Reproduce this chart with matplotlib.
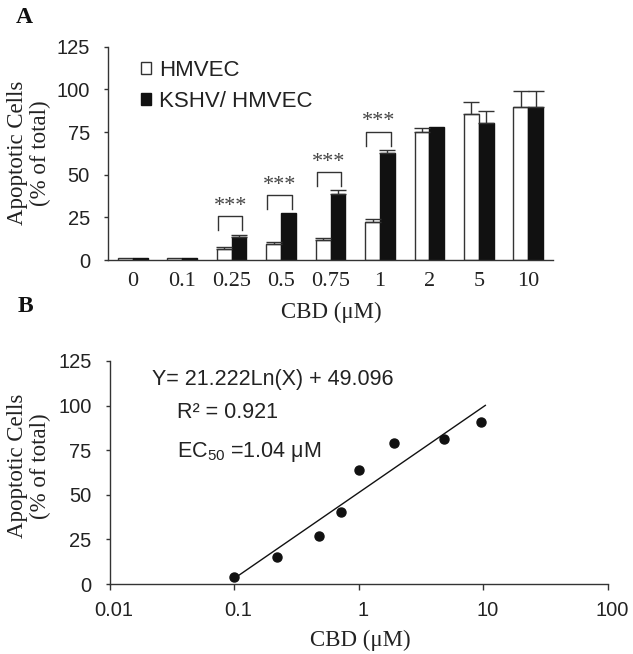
import numpy as np
import matplotlib
matplotlib.use('Agg')
import matplotlib.pyplot as plt
from matplotlib.ticker import NullLocator
from matplotlib.transforms import ScaledTranslation

# ---------------- data ----------------
cbd_labels = ['0', '0.1', '0.25', '0.5', '0.75', '1', '2', '5', '10']
hmvec = [1.0, 1.0, 6.4, 9.4, 11.7, 22.1, 75.2, 85.5, 89.6]
hmvec_err = [0, 0, 1.0, 1.0, 1.0, 1.9, 1.9, 7.3, 9.6]
kshv = [1.0, 1.0, 13.7, 27.3, 38.7, 62.7, 78.1, 80.3, 89.6]
kshv_err = [0, 0, 1.1, 0, 2.1, 1.9, 0, 7.2, 9.6]
sig_index = [2, 3, 4, 5]
sig_text = ['***', '***', '***', '***']
series_names = ['HMVEC', 'KSHV/ HMVEC']

dose_b = [0.1, 0.22, 0.48, 0.72, 1.0, 1.92, 4.84, 9.6]
apopt_b = [3.8, 15.3, 27.1, 40.2, 63.9, 79.2, 81.1, 91.0]

yticks = [0, 25, 50, 75, 100, 125]
xticks_b = [0.01, 0.1, 1, 10, 100]
xtick_labels_b = ['0.01', '0.1', '1', '10', '100']

eq_text = 'Y= 21.222Ln(X) + 49.096'
r2_text = 'R² = 0.921'
ec50_text = 'EC$_{50}$ =1.04 μM'
ylabel_text = 'Apoptotic Cells\n(% of total)'
xlabel_text = 'CBD (μM)'

# ---------------- style ----------------
SANS = 'Liberation Sans'
SERIF = 'Liberation Serif'
TXT = '#222222'
LINE = '#333333'
plt.rcParams['font.family'] = [SANS, 'DejaVu Sans']
plt.rcParams['mathtext.default'] = 'regular'

W, H = 633, 654
fig = plt.figure(figsize=(W / 100, H / 100), dpi=100)


def rect(l, t, r, b):
    return [l / W, 1 - b / H, (r - l) / W, (b - t) / H]


def style_axes(ax):
    for s in ['top', 'right']:
        ax.spines[s].set_visible(False)
    for s in ['left', 'bottom']:
        ax.spines[s].set_color(LINE)
        ax.spines[s].set_linewidth(1.0)


# ---------------- panel A ----------------
axA = fig.add_axes(rect(108, 46.7, 553, 260))
style_axes(axA)
x = np.arange(len(cbd_labels))
w = 0.30
axA.bar(x - w / 2, hmvec, w, color='white', edgecolor=LINE, linewidth=1.0,
        zorder=2, label=series_names[0])
axA.bar(x + w / 2, kshv, w, color='#111111', edgecolor='#111111', linewidth=1.0,
        zorder=2, label=series_names[1])
for xs, vals, errs in [(x - w / 2, hmvec, hmvec_err), (x + w / 2, kshv, kshv_err)]:
    vals = np.asarray(vals)
    errs = np.asarray(errs)
    m = errs > 0
    axA.errorbar(xs[m], vals[m], yerr=[np.zeros(m.sum()), errs[m]], fmt='none',
                 ecolor=LINE, elinewidth=1.0, capsize=5.5, capthick=1.0, zorder=3)

for i, s in zip(sig_index, sig_text):
    base = kshv[i] + kshv_err[i] + 2.5
    top = base + 8.2
    axA.plot([i - 0.28, i - 0.28, i + 0.22, i + 0.22], [base, top, top, base],
             color=LINE, lw=1.0, zorder=3)
    axA.text(i - 0.03, top + 5.8, s, ha='center', va='center',
             fontfamily=SERIF, fontsize=16, color='#444444')

axA.set_xlim(-0.5, 8.5)
axA.set_ylim(0, 125)
axA.set_yticks(yticks)
axA.set_xticks(x)
axA.set_xticklabels(cbd_labels, fontfamily=SERIF, fontsize=16, color=TXT)
axA.tick_params(axis='x', length=0, pad=9)
axA.tick_params(axis='y', direction='out', length=3, width=1.0, color=LINE,
                pad=10, labelsize=14.5, labelcolor=TXT)

leg = axA.legend(loc='upper left', bbox_to_anchor=(141 / W, 1 - 60 / H),
                 bbox_transform=fig.transFigure, frameon=False, fontsize=16,
                 handlelength=0.45, handleheight=0.45, handletextpad=0.35,
                 labelspacing=0.45, borderpad=0, borderaxespad=0)
for t in leg.get_texts():
    t.set_color(TXT)

# ---------------- panel B ----------------
axB = fig.add_axes(rect(109.5, 361, 608, 584))
style_axes(axB)
axB.set_xscale('log')
axB.set_xlim(0.01, 100)
axB.set_ylim(0, 125)
axB.plot(dose_b, apopt_b, 'o', color='#111111', ms=6.5, zorder=3)
coef = np.polyfit(np.log(dose_b), apopt_b, 1)
xf = np.geomspace(min(dose_b), max(dose_b) * 1.08, 100)
axB.plot(xf, np.polyval(coef, np.log(xf)), color='#111111', lw=1.0, zorder=2)

axB.set_xticks(xticks_b)
axB.set_xticklabels(xtick_labels_b)
axB.xaxis.set_minor_locator(NullLocator())
axB.set_yticks(yticks)
axB.tick_params(axis='x', direction='out', length=4, width=1.0, color=LINE,
                pad=8, labelsize=14.5, labelcolor=TXT)
axB.tick_params(axis='y', direction='out', length=3, width=1.0, color=LINE,
                pad=10, labelsize=14.5, labelcolor=TXT)
for lbl in axB.get_xticklabels():
    lbl.set_transform(lbl.get_transform() + ScaledTranslation(3 / 72, 0, fig.dpi_scale_trans))

axB.text(0.085, 0.919, eq_text, transform=axB.transAxes, ha='left', va='center',
         fontsize=15.5, color=TXT)
axB.text(0.135, 0.767, r2_text, transform=axB.transAxes, ha='left', va='center',
         fontsize=15.5, color=TXT)
axB.text(0.135, 0.592, ec50_text, transform=axB.transAxes, ha='left', va='center',
         fontsize=15.5, color=TXT)

# ---------------- labels ----------------
for yc in (153, 466):
    fig.text(29 / W, 1 - yc / H, ylabel_text, rotation=90, ha='center', va='center',
             fontfamily=SERIF, fontsize=16.5, linespacing=1.1,
             multialignment='center', color=TXT)
fig.text(331 / W, 1 - 312 / H, xlabel_text, ha='center', va='center',
         fontfamily=SERIF, fontsize=16.5, color=TXT)
fig.text(360 / W, 1 - 640 / H, xlabel_text, ha='center', va='center',
         fontfamily=SERIF, fontsize=16.5, color=TXT)
fig.text(24 / W, 1 - 17.5 / H, 'A', ha='center', va='center', fontfamily=SERIF,
         fontweight='bold', fontsize=17, color='#111111')
fig.text(25 / W, 1 - 306 / H, 'B', ha='center', va='center', fontfamily=SERIF,
         fontweight='bold', fontsize=17, color='#111111')

fig.savefig('out.png', dpi=100)
